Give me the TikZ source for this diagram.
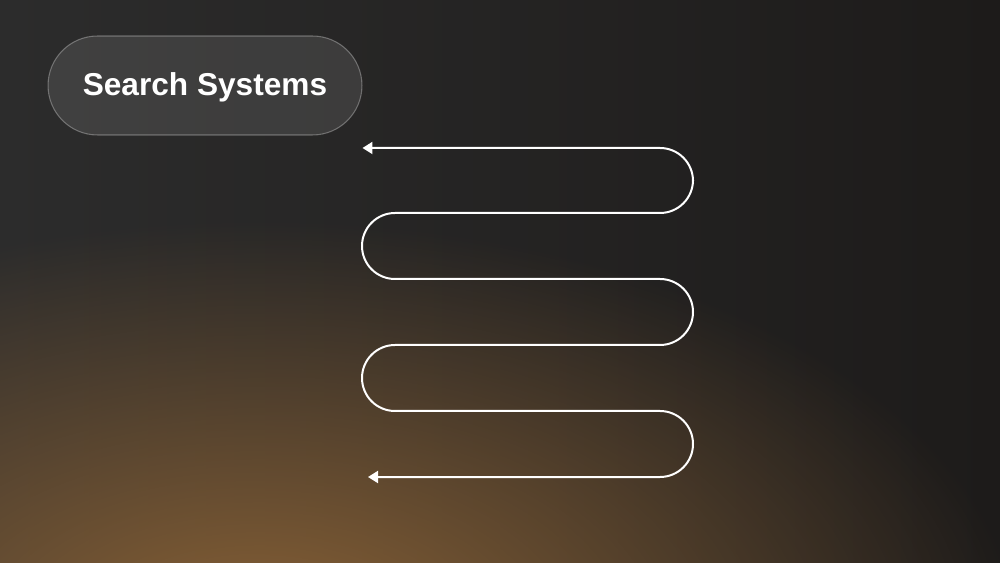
\documentclass[tikz,border=0pt]{standalone}
\usepackage{fontspec}
\newfontfamily\pillfont{Liberation Sans}
\usepackage{tikz}
\usetikzlibrary{arrows.meta, fadings, positioning}
\definecolor{bgleft}{HTML}{2C2C2C}
\definecolor{bgright}{HTML}{1D1B1A}
\definecolor{glow}{HTML}{8A6236}
\tikzfading[name=glow fade, inner color=transparent!0, outer color=transparent!100]

\begin{document}
\begin{tikzpicture}[x=0.02cm, y=-0.02cm,
		pill/.style={draw=white, draw opacity=0.3, fill=white, fill opacity=0.1, text opacity=1, text=white,
			rounded corners=0.99cm, minimum width=6.28cm, minimum height=1.98cm, line width=0.6pt,
			text height=11.5pt, text depth=0pt, font=\pillfont\bfseries\fontsize{18}{22}\selectfont},
		snake/.style={white, line width=0.04cm, rounded corners=0.66cm,
			{Triangle[length=0.2cm, width=0.24cm]}-{Triangle[length=0.2cm, width=0.24cm]}}]
		% background:
		\useasboundingbox (0,0) rectangle (1000,563);
		\shade[left color=bgleft, right color=bgright] (0,0) rectangle (1000,563);
		\begin{scope}
			\clip (0,0) rectangle (1000,563);
			\fill[glow, path fading=glow fade, fit fading=true] (260,640) ellipse [x radius=760, y radius=420];
		\end{scope}
		
		% label:
		\node[pill] (search) at (205,85.5) {Search Systems};
		
		% serpentine arrow
		\coordinate[below=1.25cm of search.east] (top end);
		\coordinate (bottom end) at (368,477);
		\draw[snake] (top end) -- (693,148) -- (693,213) -- (362,213) -- (362,279) -- (693,279)
			-- (693,345) -- (362,345) -- (362,411) -- (693,411) -- (693,477) -- (bottom end);
	\end{tikzpicture}
\end{document}
